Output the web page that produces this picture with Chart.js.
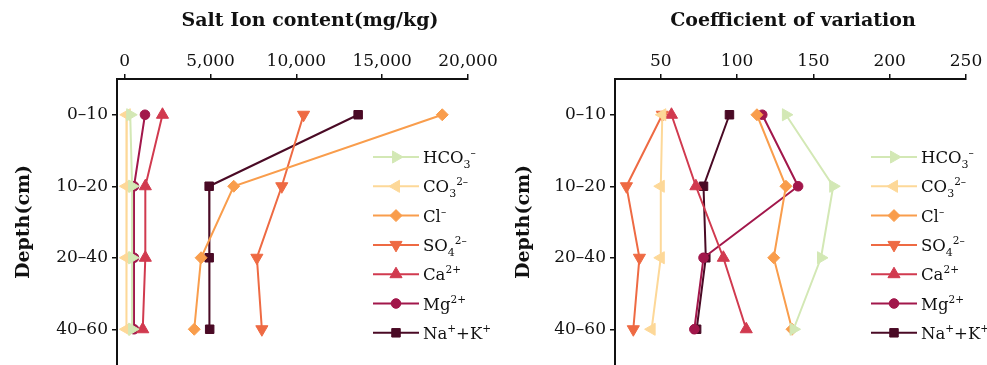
<!DOCTYPE html>
<html><head><meta charset="utf-8">
<script src="https://cdn.jsdelivr.net/npm/chart.js@4.4.1/dist/chart.umd.min.js"></script>
<style>
html,body{margin:0;padding:0;background:#fff;}
#wrap{position:relative;width:987px;height:365px;overflow:hidden;}
#c1{position:absolute;left:0;top:0;}
#c2{position:absolute;left:500px;top:0;}
</style></head><body>
<div id="wrap"><canvas id="c1" width="500" height="365"></canvas><canvas id="c2" width="487" height="365"></canvas></div>
<script>
// ---- data ----
const depths = ['0–10', '10–20', '20–40', '40–60'];
const ions = ['HCO₃⁻', 'CO₃²⁻', 'Cl⁻', 'SO₄²⁻', 'Ca²⁺', 'Mg²⁺', 'Na⁺+K⁺'];
const contentTicks = [0, 5000, 10000, 15000, 20000];
const cvTicks = [50, 100, 150, 200, 250];

// Salt ion content (mg/kg)
const hco3Content = [320, 430, 430, 430];
const co3Content  = [120, 100, 100, 100];
const clContent   = [18500, 6350, 4450, 4050];
const so4Content  = [10420, 9150, 7700, 7990];
const caContent   = [2200, 1200, 1200, 1050];
const mgContent   = [1180, 540, 540, 540];
const nakContent  = [13600, 4920, 4920, 4950];

// Coefficient of variation
const hco3CV = [132, 163, 155, 137];
const co3CV  = [51, 50, 50, 44];
const clCV   = [113, 132, 124, 136];
const so4CV  = [51, 27.5, 36, 32];
const caCV   = [57, 73, 91, 106];
const mgCV   = [116.5, 140, 78, 72];
const nakCV  = [95, 78, 79.5, 73.5];

// ---- styles ----
const colors = ['#d3e8b5', '#fdd898', '#f99d4c', '#ee6a43', '#d13a4f', '#a2174b', '#4a0a25'];
const pStyles = ['triangle', 'triangle', 'rectRot', 'triangle', 'triangle', 'circle', 'rect'];
const pRots = [90, -90, 0, 180, 0, 0, 0];
const pRadii = [7, 7, 6, 7, 7, 4.8, 6];
const FONT = '"DejaVu Serif", "Liberation Serif", serif';

const subMap = {'₀':'0','₁':'1','₂':'2','₃':'3','₄':'4','₅':'5','₆':'6','₇':'7','₈':'8','₉':'9'};
const supMap = {'⁰':'0','¹':'1','²':'2','³':'3','⁴':'4','⁵':'5','⁶':'6','⁷':'7','⁸':'8','⁹':'9','⁺':'+','⁻':'–'};

function drawRichLabel(ctx, text, x, y) {
  let cx = x;
  ctx.textAlign = 'left';
  ctx.textBaseline = 'alphabetic';
  for (const ch of text) {
    if (subMap[ch]) {
      ctx.font = '11px ' + FONT;
      ctx.fillText(subMap[ch], cx, y + 5);
      cx += ctx.measureText(subMap[ch]).width;
    } else if (supMap[ch]) {
      ctx.font = '10.5px ' + FONT;
      ctx.fillText(supMap[ch], cx, y - 7);
      cx += ctx.measureText(supMap[ch]).width;
    } else {
      ctx.font = '16.5px ' + FONT;
      ctx.fillText(ch, cx, y);
      cx += ctx.measureText(ch).width;
    }
  }
}

const ionLegend = {
  id: 'ionLegend',
  afterDraw(chart) {
    const {ctx, chartArea} = chart;
    const x0 = chartArea.right - 95, x1 = chartArea.right - 49, tx = chartArea.right - 45;
    chart.data.datasets.forEach((ds, i) => {
      const y = chartArea.top + 78 + i * 29.3;
      ctx.save();
      ctx.strokeStyle = ds.borderColor;
      ctx.fillStyle = ds.backgroundColor;
      ctx.lineWidth = 2;
      ctx.beginPath(); ctx.moveTo(x0, y); ctx.lineTo(x1, y); ctx.stroke();
      ctx.lineWidth = 1;
      Chart.helpers.drawPoint(ctx, {pointStyle: ds.pointStyle, rotation: ds.pointRotation || 0, radius: ds.pointRadius, borderWidth: 1}, (x0 + x1) / 2, y);
      ctx.fillStyle = '#111';
      drawRichLabel(ctx, ds.label, tx, y + 6);
      ctx.restore();
    });
  }
};

const panelTitle = {
  id: 'panelTitle',
  afterDraw(chart, args, opts) {
    const ctx = chart.ctx;
    ctx.save();
    ctx.font = 'bold 19px ' + FONT;
    ctx.fillStyle = '#111';
    ctx.textAlign = 'center';
    ctx.textBaseline = 'alphabetic';
    ctx.fillText(opts.text, opts.x, opts.y);
    ctx.restore();
  }
};

function makeChart(canvas, seriesList, xTicks, xMin, xMax, title, titleX, yWidth, padRight) {
  return new Chart(canvas, {
    type: 'line',
    data: {
      labels: depths,
      datasets: ions.map((name, i) => ({
        label: name,
        data: seriesList[i],
        borderColor: colors[i],
        backgroundColor: colors[i],
        pointStyle: pStyles[i],
        pointRotation: pRots[i],
        pointRadius: pRadii[i],
        pointHoverRadius: pRadii[i],
        pointBorderWidth: 1,
        borderWidth: 2,
        tension: 0,
        clip: false
      }))
    },
    options: {
      indexAxis: 'y',
      responsive: false,
      animation: false,
      events: [],
      layout: {autoPadding: false, padding: {left: 0, right: padRight, top: 0, bottom: 0}},
      plugins: {
        legend: {display: false},
        tooltip: {enabled: false},
        title: {display: false},
        panelTitle: {text: title, x: titleX, y: 26}
      },
      scales: {
        x: {
          type: 'linear',
          position: 'top',
          min: xMin,
          max: xMax,
          afterFit(s) { s.height = 79; s.paddingLeft = 0; s.paddingRight = 0; s.paddingTop = 0; s.paddingBottom = 0; },
          afterBuildTicks(s) { s.ticks = xTicks.map(v => ({value: v})); },
          grid: {drawOnChartArea: false, drawTicks: true, tickLength: 5, color: '#111', lineWidth: 1.5},
          border: {display: true, color: '#111', width: 2},
          ticks: {
            font: {family: FONT, size: 17},
            color: '#111',
            padding: 2,
            maxRotation: 0,
            autoSkip: false,
            callback: v => Number(v).toLocaleString('en-US')
          }
        },
        y: {
          type: 'category',
          offset: true,
          afterFit(s) { s.width = yWidth; s.paddingTop = 0; s.paddingBottom = 0; s.paddingLeft = 0; s.paddingRight = 0; },
          grid: {offset: false, drawOnChartArea: false, drawTicks: true, tickLength: 5, color: '#111', lineWidth: 1.5},
          border: {display: true, color: '#111', width: 2},
          ticks: {font: {family: FONT, size: 17}, color: '#111', padding: 4, autoSkip: false},
          title: {display: true, text: 'Depth(cm)', color: '#111', font: {family: FONT, size: 19, weight: 'bold'}, padding: {top: 13, bottom: 0}}
        }
      }
    },
    plugins: [panelTitle, ionLegend]
  });
}

makeChart(document.getElementById('c1'),
  [hco3Content, co3Content, clContent, so4Content, caContent, mgContent, nakContent],
  contentTicks, -450, 20000, 'Salt Ion content(mg/kg)', 310, 117, 32);

makeChart(document.getElementById('c2'),
  [hco3CV, co3CV, clCV, so4CV, caCV, mgCV, nakCV],
  cvTicks, 20, 250, 'Coefficient of variation', 293, 115, 21);
</script>
</body></html>
